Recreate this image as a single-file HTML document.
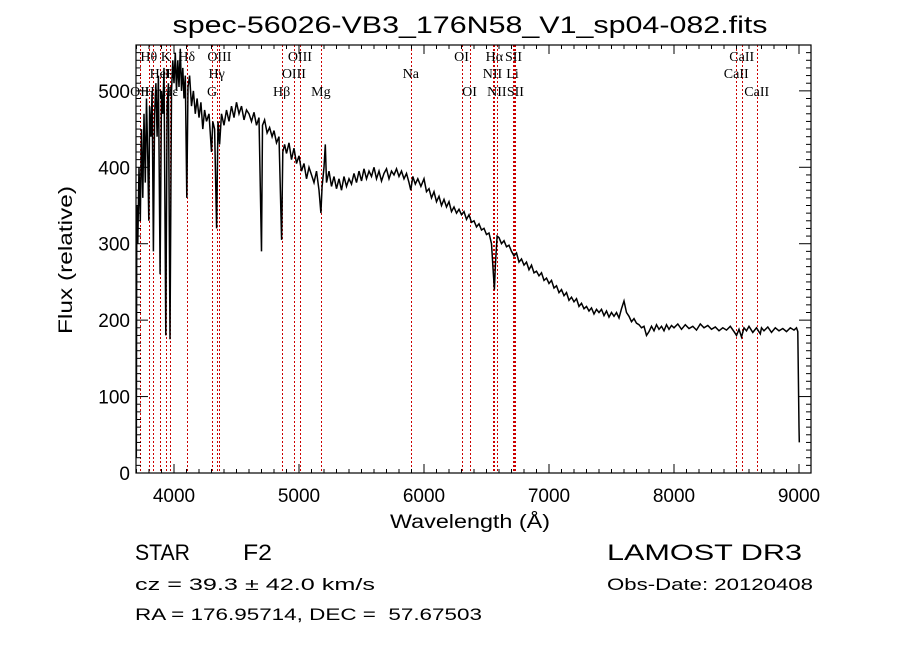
<!DOCTYPE html>
<html><head><meta charset="utf-8"><style>
html,body{margin:0;padding:0;background:#fff;}
svg{display:block;font-family:"Liberation Sans",sans-serif;}
</style></head><body>
<svg id="chart" width="900" height="649" viewBox="0 0 900 649" xmlns="http://www.w3.org/2000/svg">
<rect x="0" y="0" width="900" height="649" fill="#fff"/>
<text x="470" y="33" font-size="24" text-anchor="middle" textLength="595" lengthAdjust="spacingAndGlyphs">spec-56026-VB3_176N58_V1_sp04-082.fits</text>
<g id="lines"></g>
<g id="labels" font-family="Liberation Serif, serif" font-size="14"></g>
<g id="spec"></g>
<g id="axes"></g>
<text x="470" y="528" font-size="19" text-anchor="middle" textLength="160" lengthAdjust="spacingAndGlyphs">Wavelength (Å)</text>
<text transform="translate(72,260) rotate(-90)" font-size="19" text-anchor="middle" textLength="148" lengthAdjust="spacingAndGlyphs">Flux (relative)</text>
<text x="135" y="560" font-size="22" textLength="55" lengthAdjust="spacingAndGlyphs">STAR</text>
<text x="243" y="560" font-size="22" textLength="29" lengthAdjust="spacingAndGlyphs">F2</text>
<text x="607" y="560" font-size="22" textLength="195" lengthAdjust="spacingAndGlyphs">LAMOST DR3</text>
<text x="135" y="590" font-size="17" textLength="240" lengthAdjust="spacingAndGlyphs">cz = 39.3 ± 42.0 km/s</text>
<text x="607" y="590" font-size="17" textLength="206" lengthAdjust="spacingAndGlyphs">Obs-Date: 20120408</text>
<text x="135" y="620" font-size="17" textLength="347" lengthAdjust="spacingAndGlyphs" xml:space="preserve">RA = 176.95714, DEC =  57.67503</text>
</svg>
<script>
const wave = [3698,3702,3710,3720,3730,3740,3750,3760,3770,3780,3790,3798,3805,3815,3825,3835,3845,3855,3865,3875,3889,3900,3910,3920,3934,3945,3955,3968,3980,3990,4000,4010,4020,4030,4040,4050,4060,4070,4080,4090,4102,4112,4125,4140,4155,4170,4185,4200,4215,4230,4245,4260,4280,4300,4310,4325,4341,4352,4365,4380,4400,4420,4440,4460,4480,4500,4520,4540,4560,4580,4600,4620,4640,4660,4680,4700,4708,4725,4745,4765,4785,4800,4820,4840,4861,4870,4885,4900,4920,4940,4960,4980,5000,5020,5040,5060,5080,5100,5120,5140,5160,5175,5185,5200,5210,5220,5240,5260,5280,5300,5320,5340,5360,5380,5400,5420,5440,5460,5480,5500,5520,5540,5560,5580,5600,5620,5640,5660,5680,5700,5720,5740,5760,5780,5800,5820,5840,5860,5880,5894,5910,5930,5950,5975,6000,6020,6040,6060,6080,6100,6120,6140,6160,6180,6200,6220,6240,6260,6280,6300,6320,6340,6360,6380,6400,6420,6440,6460,6480,6500,6520,6540,6555,6563,6570,6585,6600,6620,6640,6660,6680,6700,6720,6740,6760,6780,6800,6820,6840,6860,6880,6900,6920,6940,6960,6980,7000,7020,7040,7060,7080,7100,7120,7140,7160,7180,7200,7220,7240,7260,7280,7300,7320,7340,7360,7380,7400,7420,7440,7460,7480,7500,7520,7540,7560,7580,7600,7620,7640,7660,7680,7700,7720,7740,7760,7780,7800,7820,7840,7860,7880,7900,7920,7940,7960,7980,8000,8030,8060,8090,8120,8150,8180,8210,8240,8270,8300,8330,8360,8390,8420,8450,8480,8500,8520,8540,8560,8580,8600,8630,8660,8690,8700,8720,8750,8780,8810,8840,8870,8900,8930,8960,8980,8990,9000,9002];
const flux = [20,350,300,400,330,450,360,470,380,490,410,330,480,440,500,290,470,510,440,520,260,500,470,530,180,480,510,175,500,540,510,550,500,540,505,555,500,530,490,520,360,505,520,480,500,470,490,465,485,450,475,460,470,420,460,450,320,460,430,470,455,475,460,480,465,485,470,480,462,475,470,460,472,455,465,290,455,462,445,452,440,448,432,440,305,420,430,418,432,410,425,405,415,395,405,385,400,390,380,395,370,340,375,400,430,380,395,375,388,372,385,370,388,375,385,378,392,380,395,382,398,385,395,388,400,385,395,382,392,398,385,395,390,398,388,395,385,392,380,370,388,378,385,375,385,368,372,360,368,355,362,350,358,348,355,342,348,340,345,338,342,332,338,328,330,322,326,318,320,312,314,300,260,240,270,310,308,300,304,296,298,290,284,288,276,280,272,276,266,272,262,264,258,262,252,255,248,252,242,245,236,240,232,236,226,230,224,228,218,222,215,218,212,216,208,214,210,214,206,212,204,210,205,210,203,215,225,210,205,198,202,196,194,190,192,180,185,192,186,194,188,192,186,194,188,193,190,195,188,194,189,192,187,195,190,193,188,191,186,190,187,192,185,180,188,178,190,186,192,184,190,182,190,186,191,184,190,186,189,185,190,187,190,185,60,40];
const majorX = [4000,5000,6000,7000,8000,9000];
const xTickLabels = ["4000","5000","6000","7000","8000","9000"];
const majorY = [0,100,200,300,400,500];
const yTickLabels = ["0","100","200","300","400","500"];
const lineWaves = [3727,3798,3835,3889,3934,3968,3970,4102,4304,4341,4363,4861,4959,5007,5175,5894,6300,6364,6548,6563,6583,6708,6716,6731,8498,8542,8662];
const lineNames = ["OII","Hθ","Hη","HeI","K","H","Hε","Hδ","G","Hγ","OIII","Hβ","OIII","OIII","Mg","Na","OI","OI","NII","Hα","NII","Li","SII","SII","CaII","CaII","CaII"];
const lineRows = [2,0,2,1,0,1,2,0,2,1,0,2,1,0,2,1,0,2,1,0,2,1,0,2,1,0,2];

const L=136,R=811,T=45,B=473;
const xMin=3696,xMax=9096,yMin=0,yMax=560;
const sx=v=>L+(v-xMin)/(xMax-xMin)*(R-L);
const sy=v=>B-(v-yMin)/(yMax-yMin)*(B-T);
const NS="http://www.w3.org/2000/svg";
function mk(tag,parent){const e=document.createElementNS(NS,tag);parent.appendChild(e);return e;}

const gl=document.getElementById('lines');
const glab=document.getElementById('labels');
const rowY=[61,78,96];
lineWaves.forEach((w,i)=>{
  const xp=Math.round(sx(w))+0.5;
  const l=mk('line',gl);
  
  
  l.setAttribute('x1',xp);l.setAttribute('x2',xp);
  l.setAttribute('y1',T);l.setAttribute('y2',B);
  l.setAttribute('stroke','#cc0000');l.setAttribute('stroke-width','1');
  l.setAttribute('stroke-dasharray','2,2');
  l.setAttribute('shape-rendering','crispEdges');
  const t=mk('text',glab);
  
  
  t.setAttribute('x',sx(w));t.setAttribute('y',rowY[lineRows[i]]);
  t.setAttribute('text-anchor','middle');
  t.textContent=lineNames[i];
});

const gs=document.getElementById('spec');
const n=Math.min(wave.length,flux.length);
const pts=[];
for(let i=0;i<n;i++){pts.push(sx(wave[i]).toFixed(1)+','+sy(flux[i]).toFixed(1));}
const p=mk('polyline',gs);


p.setAttribute('points',pts.join(' '));
p.setAttribute('fill','none');p.setAttribute('stroke','#000');p.setAttribute('stroke-width','1.5');

const ga=document.getElementById('axes');
const box=mk('rect',ga);


box.setAttribute('x',L);box.setAttribute('y',T);box.setAttribute('width',R-L);box.setAttribute('height',B-T);
box.setAttribute('fill','none');box.setAttribute('stroke','#000');box.setAttribute('stroke-width','1.2');
function tick(x1,y1,x2,y2){const t=mk('line',ga);
  
  
  t.setAttribute('x1',x1);t.setAttribute('y1',y1);t.setAttribute('x2',x2);t.setAttribute('y2',y2);t.setAttribute('stroke','#000');}
for(let w=3700;w<=9096;w+=100){const x=sx(w);const len=(w%1000===0)?9:4;tick(x,B,x,B-len);tick(x,T,x,T+len);}
for(let v=0;v<=560;v+=10){const y=sy(v);const len=(v%100===0)?12:5;tick(L,y,L+len,y);tick(R,y,R-len,y);}
majorX.forEach((w,i)=>{const t=mk('text',ga);
  
  
  t.setAttribute('x',sx(w));t.setAttribute('y',B+29);t.setAttribute('font-size','19');t.setAttribute('text-anchor','middle');t.textContent=xTickLabels[i];});
majorY.forEach((v,i)=>{const t=mk('text',ga);
  
  
  t.setAttribute('x',L-6);t.setAttribute('y',sy(v)+7);t.setAttribute('font-size','19');t.setAttribute('text-anchor','end');t.textContent=yTickLabels[i];});
</script>
</body></html>
